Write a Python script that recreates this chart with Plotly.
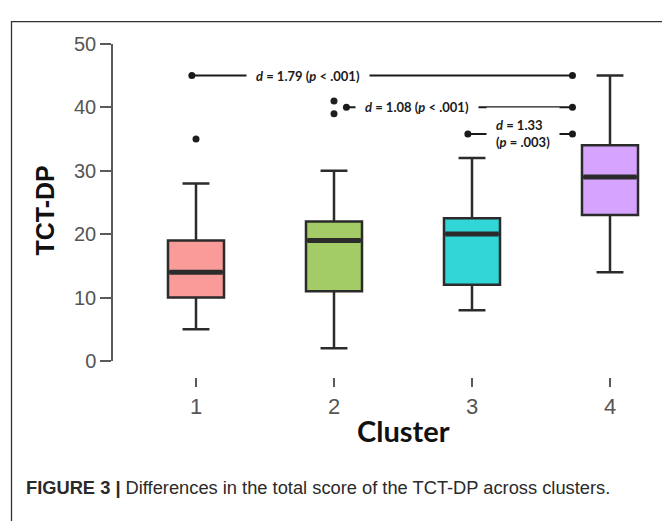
import plotly.graph_objects as go

# ---------------- data ----------------
clusters = [1, 2, 3, 4]
tick_labels = ["1", "2", "3", "4"]
lower_whisker = [5, 2, 8, 14]
q1 = [10, 11, 12, 23]
median = [14, 19, 20, 29]
q3 = [19, 22, 22.5, 34]
upper_whisker = [28, 30, 32, 45]
box_colors = ["#F99B98", "#A3CC66", "#32D6D6", "#D6A3FF"]

outlier_cluster = [1, 2, 2]
outlier_value = [35, 39, 41]

comp_from = [1, 2, 3]
comp_to = [4, 4, 4]
comp_level = [45, 40, 35.8]
comp_d = ["1.79", "1.08", "1.33"]
comp_p = ["< .001", "< .001", "= .003"]

y_ticks = [0, 10, 20, 30, 40, 50]

# ---------------- layout helpers ----------------
W, H = 670, 521
OFF = 8  # page body margin: figure is drawn 8px right/down in the window


def pxx(x):
    return (x - OFF) / W


def pxy(y):
    return 1 - (y - OFF) / H


BOX_W = 0.406
LINE_C = "#2b2b2b"
AX_C = "#5a5a5a"

fig = go.Figure()

for i, c in enumerate(clusters):
    fig.add_trace(go.Box(
        x=[c], q1=[q1[i]], median=[median[i]], q3=[q3[i]],
        lowerfence=[lower_whisker[i]], upperfence=[upper_whisker[i]],
        fillcolor=box_colors[i], line=dict(color=LINE_C, width=2.5),
        width=BOX_W, whiskerwidth=0.48, boxpoints=False,
        showlegend=False, hoverinfo="skip",
    ))
    fig.add_trace(go.Scatter(
        x=[c - BOX_W / 2 + 0.01, c + BOX_W / 2 - 0.01], y=[median[i], median[i]],
        mode="lines", line=dict(color=LINE_C, width=5),
        showlegend=False, hoverinfo="skip",
    ))

fig.add_trace(go.Scatter(
    x=outlier_cluster, y=outlier_value, mode="markers",
    marker=dict(color="#1f1f1f", size=7), showlegend=False, hoverinfo="skip",
))

left_off = [-0.03, 0.09, -0.03]
right_off = -0.272
text_x = [1.815, 2.601, 3.366]
for i in range(len(comp_from)):
    xl = comp_from[i] + left_off[i]
    xr = comp_to[i] + right_off
    fig.add_trace(go.Scatter(
        x=[xl, xr], y=[comp_level[i], comp_level[i]], mode="lines+markers",
        line=dict(color="#1a1a1a", width=2), marker=dict(color="#1a1a1a", size=7),
        showlegend=False, hoverinfo="skip",
    ))
    if i < 2:
        txt = "<b><i>d</i> = %s (<i>p</i> %s)</b>" % (comp_d[i], comp_p[i])
    else:
        txt = "<b><i>d</i> = %s<br>(<i>p</i> %s)</b>" % (comp_d[i], comp_p[i])
    fig.add_annotation(
        x=text_x[i], y=comp_level[i], xref="x", yref="y", text=txt,
        showarrow=False, bgcolor="white", borderpad=9, align="left",
        xanchor="center", yanchor="middle",
        font=dict(family="Lato", size=13, color="#1a1a1a"),
    )

fig.add_annotation(
    x=pxx(45), y=pxy(208), xref="paper", yref="paper", text="<b>TCT-DP</b>",
    textangle=-90, showarrow=False, xanchor="center", yanchor="middle",
    font=dict(family="Liberation Sans, Arial", size=25, color="#111111"),
)
fig.add_annotation(
    x=pxx(403), y=pxy(438), xref="paper", yref="paper", text="<b>Cluster</b>",
    showarrow=False, xanchor="center", yanchor="middle",
    font=dict(family="Lato", size=29, color="#111111"),
)

fig.add_annotation(
    x=pxx(24), y=pxy(497), xref="paper", yref="paper", xanchor="left", yanchor="middle",
    text="<b>FIGURE 3 |</b> Differences in the total score of the TCT-DP across clusters.",
    showarrow=False,
    font=dict(family="Liberation Sans Narrow, Arial Narrow, Liberation Sans, Arial", size=18.3, color="#2a2a2a"),
)

fig.add_shape(
    type="rect", xref="paper", yref="paper",
    x0=pxx(11.5), x1=pxx(667.5), y0=-0.05, y1=pxy(10.7),
    line=dict(color="#333333", width=1.3), fillcolor="rgba(0,0,0,0)", layer="below",
)

x_left_px, x_right_px = 113, 650
x_c1_px, x_step_px = 196, 138
xr0 = 1 - (x_c1_px - x_left_px) / x_step_px
xr1 = 4 + (x_right_px - 610) / x_step_px

fig.update_layout(
    width=W, height=H, margin=dict(l=0, r=0, t=0, b=0),
    paper_bgcolor="white", plot_bgcolor="white",
    xaxis=dict(
        domain=[pxx(x_left_px), pxx(x_right_px)], range=[xr0, xr1],
        anchor="free", position=pxy(382),
        tickvals=clusters, ticktext=tick_labels,
        ticks="outside", ticklen=9, tickwidth=1.5, tickcolor=AX_C,
        showline=False, showgrid=False, zeroline=False,
        tickfont=dict(family="Liberation Sans, Arial", size=22, color="#555555"),
    ),
    yaxis=dict(
        domain=[pxy(365), pxy(34)], range=[0, 50],
        tickvals=y_ticks, ticks="outside", ticklen=11, tickwidth=1.5, tickcolor=AX_C,
        showline=True, linecolor=AX_C, linewidth=1.5,
        showgrid=False, zeroline=False,
        tickfont=dict(family="Liberation Sans, Arial", size=20, color="#555555"),
    ),
    boxmode="overlay",
)

fig.write_html("out.html")
